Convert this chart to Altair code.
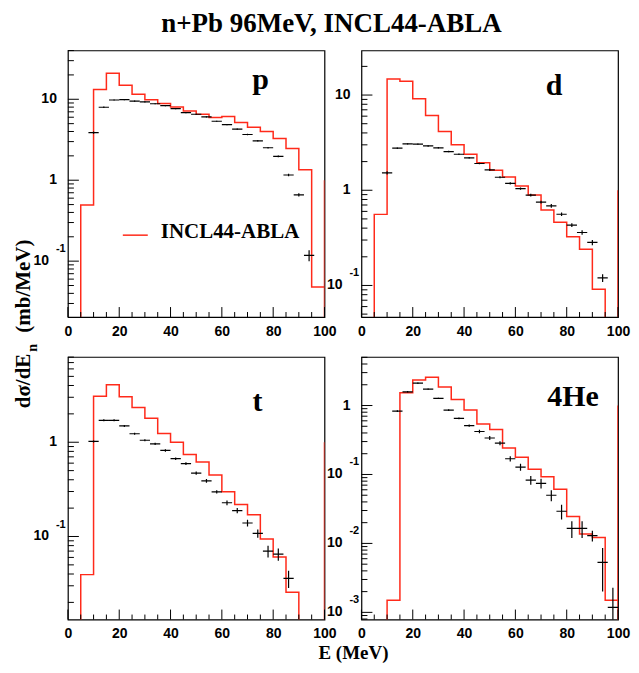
import math
import altair as alt
import pandas as pd

# ---------------- data ----------------
BIN_LO = [0, 5, 10, 15, 20, 25, 30, 35, 40, 45, 50, 55, 60, 65, 70, 75, 80, 85, 90, 95]
BIN_W = 5
EDGE_LEVEL = 1.0          # red segment drawn at E = 100

# INCL44-ABLA histograms (mb/MeV), 5 MeV bins
p_model = [0, 0.494, 13.2, 20.9, 14.9, 11.5, 9.9, 8.84, 8.04, 7.18, 6.53, 5.94, 6.12, 5.16, 4.52, 4.00, 3.28, 2.47, 1.35, 0.048]
d_model = [0, 0.558, 14.7, 14.0, 9.15, 6.08, 4.13, 3.0, 2.39, 1.94, 1.62, 1.38, 1.11, 0.89, 0.62, 0.46, 0.325, 0.24, 0.091, 0]
t_model = [0, 0.0394, 3.07, 4.07, 3.03, 2.34, 1.80, 1.24, 1.0, 0.743, 0.618, 0.449, 0.298, 0.218, 0.170, 0.094, 0.0607, 0.0256, 0, 0]
he_model = [0, 0, 0.0015, 1.53, 2.35, 2.57, 1.85, 1.22, 0.858, 0.541, 0.449, 0.243, 0.177, 0.119, 0.0928, 0.0611, 0.0245, 0.0137, 0.0122, 0.0015]

# experimental points
p_x = [10, 14, 18, 22, 26, 30, 34, 38, 42, 46, 50, 54, 58, 62, 66, 70, 74, 78, 82, 86, 90, 94]
p_y = [3.88, 7.97, 9.8, 9.9, 9.5, 9.3, 8.8, 8.35, 7.67, 6.85, 6.53, 6.05, 5.35, 4.87, 4.27, 3.67, 3.07, 2.52, 1.97, 1.16, 0.66, 0.118]
p_e = [0.12, 0.15, 0.15, 0.15, 0.15, 0.15, 0.14, 0.13, 0.12, 0.11, 0.11, 0.10, 0.09, 0.09, 0.08, 0.08, 0.07, 0.06, 0.05, 0.04, 0.03, 0.018]

d_x = [10, 14, 18, 22, 26, 30, 34, 38, 42, 46, 50, 54, 58, 62, 66, 70, 74, 78, 82, 86, 90, 94]
d_y = [1.52, 2.77, 3.07, 3.05, 2.92, 2.79, 2.55, 2.39, 2.19, 1.91, 1.64, 1.37, 1.18, 1.04, 0.89, 0.75, 0.685, 0.56, 0.43, 0.36, 0.283, 0.12]
d_e = [0.06, 0.05, 0.05, 0.05, 0.05, 0.05, 0.05, 0.04, 0.04, 0.04, 0.04, 0.03, 0.03, 0.03, 0.03, 0.025, 0.03, 0.025, 0.02, 0.02, 0.018, 0.011]

t_x = [10, 14, 18, 22, 26, 30, 34, 38, 42, 46, 50, 54, 58, 62, 66, 70, 74, 78, 82, 86]
t_y = [1.02, 1.71, 1.71, 1.49, 1.23, 1.05, 0.96, 0.818, 0.67, 0.594, 0.47, 0.39, 0.298, 0.228, 0.188, 0.139, 0.108, 0.070, 0.0649, 0.0359]
t_e = [0.025, 0.04, 0.04, 0.035, 0.03, 0.025, 0.025, 0.025, 0.02, 0.02, 0.018, 0.018, 0.012, 0.013, 0.012, 0.0115, 0.011, 0.01, 0.0095, 0.0075]

he_x = [14, 18, 22, 26, 30, 34, 38, 42, 46, 50, 54, 58, 62, 66, 70, 74, 78, 82, 86, 90, 94, 98]
he_y = [0.83, 1.58, 2.11, 1.73, 1.27, 0.858, 0.652, 0.512, 0.42, 0.338, 0.284, 0.169, 0.128, 0.083, 0.0745, 0.05, 0.0293, 0.0165, 0.0165, 0.013, 0.0053, 0.00118]
he_e = [0.027, 0.04, 0.05, 0.04, 0.03, 0.025, 0.02, 0.02, 0.024, 0.023, 0.019, 0.015, 0.015, 0.012, 0.012, 0.009, 0.007, 0.0045, 0.0045, 0.0023, 0.0033, 0.0011]

# axes
X_MAJOR = [0, 20, 40, 60, 80, 100]
X_MINOR = [5, 10, 15, 25, 30, 35, 45, 50, 55, 65, 70, 75, 85, 90, 95]
p_dom = [0.0204, 40.1]
d_dom = [0.0466, 29.4]
t_dom = [0.01315, 8.03]
he_dom = [0.000787, 5.06]
p_labels = [10, 1, 0.1]
d_labels = [10, 1, 0.1]
t_labels = [1, 0.1]
he_labels = [1, 0.1, 0.01, 0.001]

TITLE = "n+Pb 96MeV, INCL44-ABLA"
LEGEND = "INCL44-ABLA"

RED = "#ff2a1a"
SERIF = "Liberation Serif"
SANS = "Liberation Sans"
W = 257
H_TOP = 267
H_BOT = 263

xaxis = alt.Axis(values=X_MAJOR, format="d", labelFont=SANS, labelFontWeight="bold",
                 labelFontSize=14, labelColor="black", ticks=False, tickSize=0,
                 domain=False, grid=False, labelPadding=7, title=None,
                 labelFlush=False, labelOverlap=False)


def one():
    return pd.DataFrame({"a": [0]})


def text_layer(txt, x, y, size, font=SERIF, weight="bold", align="left",
               baseline="alphabetic", angle=0, color="black"):
    kw = dict(text=txt, font=font, fontWeight=weight, fontSize=size, align=align,
              baseline=baseline, color=color)
    if angle:
        kw["angle"] = angle
    return alt.Chart(one()).mark_text(**kw).encode(x=alt.value(x), y=alt.value(y))


def make_panel(model, ex, ey, ee, dom, H, labels, tag, tag_x, tag_y, extras):
    ymin, ymax = dom
    below = ymin * 0.5
    xs = alt.Scale(domain=[0, 100], nice=False, zero=False)
    ys = alt.Scale(type="log", domain=[ymin, ymax], nice=False)

    rows = []

    def add(x, y):
        rows.append({"x": x, "y": y, "o": len(rows)})

    add(0, below)
    for lo, v in zip(BIN_LO, model):
        vv = v if v > 0 else below
        add(lo, vv)
        add(lo + BIN_W, vv)
    add(100, below)
    add(100, EDGE_LEVEL)

    step = alt.Chart(pd.DataFrame(rows)).mark_line(
        color=RED, strokeWidth=1.5, clip=True, interpolate="linear").encode(
        x=alt.X("x:Q", scale=xs, axis=xaxis),
        y=alt.Y("y:Q", scale=ys, axis=None),
        order="o:Q")

    df = pd.DataFrame({"x": ex, "y": ey, "e": ee})
    df["xl"] = df["x"] - 2
    df["xh"] = df["x"] + 2
    df["yl"] = (df["y"] - df["e"]).clip(lower=ymin * 0.05)
    df["yh"] = df["y"] + df["e"]

    hbar = alt.Chart(df).mark_rule(color="black", strokeWidth=1.2, clip=True).encode(
        x=alt.X("xl:Q", scale=xs, axis=xaxis), x2="xh:Q",
        y=alt.Y("y:Q", scale=ys, axis=None))
    vbar = alt.Chart(df).mark_rule(color="black", strokeWidth=1.2, clip=True).encode(
        x=alt.X("x:Q", scale=xs, axis=xaxis),
        y=alt.Y("yl:Q", scale=ys, axis=None), y2="yh:Q")

    # inside ticks
    xmaj = alt.Chart(pd.DataFrame({"t": X_MAJOR})).mark_rule(color="black", strokeWidth=1).encode(
        x=alt.X("t:Q", scale=xs, axis=xaxis), y=alt.value(H), y2=alt.value(H - 10))
    xmin = alt.Chart(pd.DataFrame({"t": X_MINOR})).mark_rule(color="black", strokeWidth=1).encode(
        x=alt.X("t:Q", scale=xs, axis=xaxis), y=alt.value(H), y2=alt.value(H - 5))
    majors = [10.0 ** k for k in range(-4, 3) if ymin <= 10.0 ** k <= ymax]
    minors = [m * 10.0 ** k for k in range(-4, 3) for m in range(2, 10)
              if ymin <= m * 10.0 ** k <= ymax]
    ymaj = alt.Chart(pd.DataFrame({"t": majors})).mark_rule(color="black", strokeWidth=1).encode(
        y=alt.Y("t:Q", scale=ys, axis=None), x=alt.value(0), x2=alt.value(11))
    ymin_r = alt.Chart(pd.DataFrame({"t": minors})).mark_rule(color="black", strokeWidth=1).encode(
        y=alt.Y("t:Q", scale=ys, axis=None), x=alt.value(0), x2=alt.value(6))

    plain = pd.DataFrame({"v": [v for v in labels if v >= 1],
                          "s": [str(int(round(v))) for v in labels if v >= 1]})
    expo = pd.DataFrame({"v": [v for v in labels if v < 1],
                         "s": ["10" for v in labels if v < 1],
                         "k": [str(int(round(math.log10(v)))) for v in labels if v < 1]})
    lab_plain = alt.Chart(plain).mark_text(font=SANS, fontWeight="bold", fontSize=14,
                                           align="right", baseline="middle", color="black").encode(
        y=alt.Y("v:Q", scale=ys, axis=None), x=alt.value(-11), text="s:N")
    lab_base = alt.Chart(expo).mark_text(font=SANS, fontWeight="bold", fontSize=14,
                                         align="right", baseline="middle", color="black").encode(
        y=alt.Y("v:Q", scale=ys, axis=None), x=alt.value(-19), text="s:N")
    lab_exp = alt.Chart(expo).mark_text(font=SANS, fontWeight="bold", fontSize=11, dy=-12,
                                        align="left", baseline="middle", color="black").encode(
        y=alt.Y("v:Q", scale=ys, axis=None), x=alt.value(-12), text="k:N")

    tag_t = text_layer(tag, tag_x, tag_y, 30, align="center")

    layers = [step, hbar, vbar, xmaj, xmin, ymaj, ymin_r, lab_plain, lab_base, lab_exp, tag_t] + extras
    return alt.layer(*layers).properties(width=W, height=H)


# extras for panel p: anchor, title, legend, y title
anchor = alt.Chart(one()).mark_rect(opacity=0).encode(
    x=alt.value(-59), x2=alt.value(-58), y=alt.value(-41), y2=alt.value(-40))
title_t = text_layer(TITLE, 264, -18, 27, align="center")
leg_line = alt.Chart(one()).mark_rule(color=RED, strokeWidth=1.5).encode(
    x=alt.value(55), x2=alt.value(80), y=alt.value(185))
leg_text = text_layer(LEGEND, 93, 188, 21)
ytitle_a = text_layer("dσ/dE", -44, 331, 21, align="center", baseline="middle", angle=270)
ytitle_b = text_layer("n", -35, 298, 14, align="center", baseline="middle", angle=270)
ytitle_c = text_layer("(mb/MeV)", -44, 236, 21, align="center", baseline="middle", angle=270)

p_panel = make_panel(p_model, p_x, p_y, p_e, p_dom, H_TOP, p_labels, "p", 193, 39,
                     [anchor, title_t, leg_line, leg_text, ytitle_a, ytitle_b, ytitle_c])
d_panel = make_panel(d_model, d_x, d_y, d_e, d_dom, H_TOP, d_labels, "d", 193, 45, [])
xtitle = text_layer("E (MeV)", 286, H_BOT + 40, 19, align="center")
t_panel = make_panel(t_model, t_x, t_y, t_e, t_dom, H_BOT, t_labels, "t", 190, 54, [xtitle])
he_panel = make_panel(he_model, he_x, he_y, he_e, he_dom, H_BOT, he_labels, "4He", 212, 49, [])

chart = alt.concat(p_panel, d_panel, t_panel, he_panel, columns=2,
                   spacing={"row": 40, "column": 37}, bounds="flush").properties(
    padding={"left": 0, "top": 0, "right": 0, "bottom": 0}
).configure_view(stroke="black", strokeWidth=1.2)

chart.save("out.html", embed_options={"renderer": "svg", "actions": False})
